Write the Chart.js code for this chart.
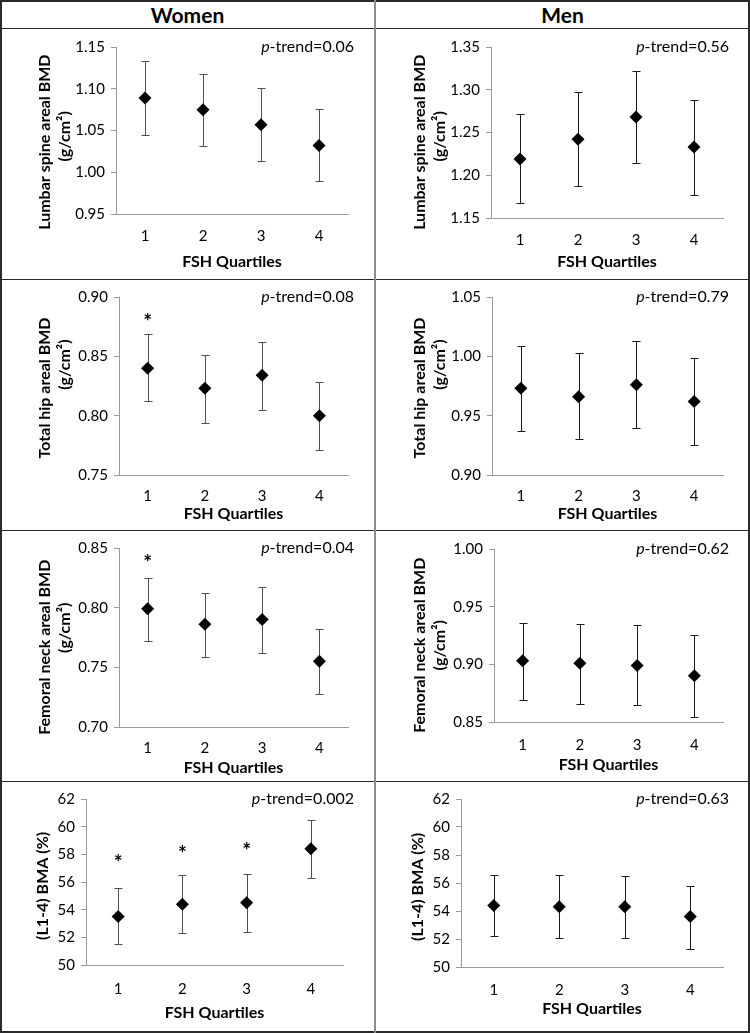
<!DOCTYPE html>
<html><head><meta charset="utf-8">
<script src="https://cdn.jsdelivr.net/npm/chart.js@4.4.0/dist/chart.umd.min.js"></script>
<style>
html,body{margin:0;padding:0;background:#fff;}
#wrap{position:relative;width:750px;height:1033px;overflow:hidden;font-family:Lato,sans-serif;background:#fff;}
canvas{position:absolute;}
.hdr{position:absolute;top:0;height:28px;line-height:29px;text-align:center;font-weight:bold;font-size:21px;color:#000;}
.ln{position:absolute;background:#2a2a2a;}
</style></head><body>
<div id="wrap">
  <div class="hdr" style="left:0;width:375px">Women</div>
  <div class="hdr" style="left:375px;width:375px">Men</div>
</div>
<script>
// ---------- data ----------
const categories = ['1', '2', '3', '4'];

const womenSpineMean = [1.089, 1.075, 1.057, 1.032];
const womenSpineLow  = [1.045, 1.031, 1.013, 0.989];
const womenSpineHigh = [1.133, 1.118, 1.101, 1.076];

const menSpineMean = [1.219, 1.242, 1.268, 1.233];
const menSpineLow  = [1.167, 1.188, 1.214, 1.177];
const menSpineHigh = [1.272, 1.297, 1.322, 1.288];

const womenHipMean = [0.840, 0.823, 0.834, 0.800];
const womenHipLow  = [0.812, 0.794, 0.805, 0.771];
const womenHipHigh = [0.869, 0.851, 0.862, 0.828];

const menHipMean = [0.973, 0.966, 0.976, 0.962];
const menHipLow  = [0.937, 0.930, 0.940, 0.925];
const menHipHigh = [1.009, 1.003, 1.013, 0.999];

const womenNeckMean = [0.799, 0.786, 0.790, 0.755];
const womenNeckLow  = [0.772, 0.759, 0.762, 0.728];
const womenNeckHigh = [0.825, 0.812, 0.817, 0.782];

const menNeckMean = [0.903, 0.901, 0.899, 0.890];
const menNeckLow  = [0.869, 0.866, 0.865, 0.854];
const menNeckHigh = [0.936, 0.935, 0.934, 0.925];

const womenBmaMean = [53.5, 54.4, 54.5, 58.4];
const womenBmaLow  = [51.5, 52.3, 52.4, 56.3];
const womenBmaHigh = [55.6, 56.5, 56.6, 60.5];

const menBmaMean = [54.4, 54.3, 54.3, 53.6];
const menBmaLow  = [52.2, 52.1, 52.1, 51.3];
const menBmaHigh = [56.6, 56.6, 56.5, 55.8];

// significance markers (value position of the asterisk, null = none)
const womenHipStar  = [0.883, null, null, null];
const womenNeckStar = [0.842, null, null, null];
const womenBmaStar  = [57.7, 58.4, 58.6, null];

const pTrendValues = ['0.06', '0.56', '0.08', '0.79', '0.04', '0.62', '0.002', '0.63'];

const spineWomenTicks = [0.95, 1.00, 1.05, 1.10, 1.15];
const spineMenTicks   = [1.15, 1.20, 1.25, 1.30, 1.35];
const hipWomenTicks   = [0.75, 0.80, 0.85, 0.90];
const hipMenTicks     = [0.90, 0.95, 1.00, 1.05];
const neckWomenTicks  = [0.70, 0.75, 0.80, 0.85];
const neckMenTicks    = [0.85, 0.90, 0.95, 1.00];
const bmaTicks        = [50, 52, 54, 56, 58, 60, 62];

const xTitle = 'FSH Quartiles';
const spineTitle = ['Lumbar spine areal BMD', '(g/cm\u00B2)'];
const hipTitle = ['Total hip areal BMD', '(g/cm\u00B2)'];
const neckTitle = ['Femoral neck areal BMD', '(g/cm\u00B2)'];
const bmaTitle = ['(L1-4) BMA (%)'];

// ---------- layout (per panel, relative to the cell) ----------
const FONT = 'Lato';
const CELL_W = 375, CELL_H = 251, HEADER_H = 28;

// yShift: vertical offset of each y-title line from the plot centre (px, + = down)
const panels = [
  {col:0,row:0,mean:womenSpineMean,low:womenSpineLow,high:womenSpineHigh,star:null,ticks:spineWomenTicks,dec:2,title:spineTitle,p:pTrendValues[0],bar:'#505050',
   g:{left:116,right:348,top:19,bottom:186,xLabelY:208,xTitleY:234,yTitleX:45,yShift:[12,5]}},
  {col:1,row:0,mean:menSpineMean,low:menSpineLow,high:menSpineHigh,star:null,ticks:spineMenTicks,dec:2,title:spineTitle,p:pTrendValues[1],bar:'#1a1a1a',
   g:{left:116,right:348,top:19,bottom:190,xLabelY:212,xTitleY:234,yTitleX:45,yShift:[10,4]}},
  {col:0,row:1,mean:womenHipMean,low:womenHipLow,high:womenHipHigh,star:womenHipStar,ticks:hipWomenTicks,dec:2,title:hipTitle,p:pTrendValues[2],bar:'#505050',
   g:{left:119,right:348,top:18,bottom:196,xLabelY:217,xTitleY:235,yTitleX:45,yShift:[1,-22]}},
  {col:1,row:1,mean:menHipMean,low:menHipLow,high:menHipHigh,star:null,ticks:hipMenTicks,dec:2,title:hipTitle,p:pTrendValues[3],bar:'#1a1a1a',
   g:{left:117,right:348,top:18,bottom:196,xLabelY:217,xTitleY:235,yTitleX:45,yShift:[1,-22]}},
  {col:0,row:2,mean:womenNeckMean,low:womenNeckLow,high:womenNeckHigh,star:womenNeckStar,ticks:neckWomenTicks,dec:2,title:neckTitle,p:pTrendValues[4],bar:'#505050',
   g:{left:119,right:348,top:18,bottom:197,xLabelY:218,xTitleY:238,yTitleX:45,yShift:[9,-10]}},
  {col:1,row:2,mean:menNeckMean,low:menNeckLow,high:menNeckHigh,star:null,ticks:neckMenTicks,dec:2,title:neckTitle,p:pTrendValues[5],bar:'#1a1a1a',
   g:{left:119,right:348,top:19,bottom:192,xLabelY:215,xTitleY:235,yTitleX:45,yShift:[9,10]}},
  {col:0,row:3,mean:womenBmaMean,low:womenBmaLow,high:womenBmaHigh,star:womenBmaStar,ticks:bmaTicks,dec:0,title:bmaTitle,p:pTrendValues[6],bar:'#505050',
   g:{left:86,right:343,top:18,bottom:184,xLabelY:208,xTitleY:232,yTitleX:43,yShift:[4]}},
  {col:1,row:3,mean:menBmaMean,low:menBmaLow,high:menBmaHigh,star:null,ticks:bmaTicks,dec:0,title:bmaTitle,p:pTrendValues[7],bar:'#1a1a1a',
   g:{left:86,right:348,top:18,bottom:186,xLabelY:209,xTitleY:228,yTitleX:43,yShift:[4]}}
];

// pad a rotated title line with spaces so its centre moves by `shift` px
const measureCtx = document.createElement('canvas').getContext('2d');
function shiftLine(text, shift, font) {
  measureCtx.font = font;
  const sp = measureCtx.measureText('\u00A0').width || 4;
  const n = Math.round(Math.abs(shift) * 2 / sp);
  const pad = '\u00A0'.repeat(n);
  return shift >= 0 ? text + pad : pad + text;
}

// ---------- plugins ----------
const errorBarPlugin = {
  id: 'errorBars',
  beforeDatasetsDraw(chart, args, opts) {
    const ctx = chart.ctx, meta = chart.getDatasetMeta(0), ys = chart.scales.y;
    ctx.save();
    ctx.strokeStyle = opts.color;
    ctx.lineWidth = 1;
    meta.data.forEach((pt, i) => {
      const x = Math.round(pt.x) + 0.5;
      const yh = Math.round(ys.getPixelForValue(opts.high[i])) + 0.5;
      const yl = Math.round(ys.getPixelForValue(opts.low[i])) + 0.5;
      ctx.beginPath();
      ctx.moveTo(x, yh); ctx.lineTo(x, yl);
      ctx.moveTo(x - 4, yh); ctx.lineTo(x + 4, yh);
      ctx.moveTo(x - 4, yl); ctx.lineTo(x + 4, yl);
      ctx.stroke();
    });
    ctx.restore();
  }
};

const starPlugin = {
  id: 'stars',
  afterDatasetsDraw(chart, args, opts) {
    if (!opts.values) return;
    const ctx = chart.ctx, meta = chart.getDatasetMeta(0), ys = chart.scales.y;
    ctx.save();
    ctx.fillStyle = '#000';
    ctx.font = 'bold 21px ' + FONT;
    ctx.textAlign = 'center';
    ctx.textBaseline = 'alphabetic';
    meta.data.forEach((pt, i) => {
      const v = opts.values[i];
      if (v === null || v === undefined) return;
      ctx.fillText('*', pt.x, ys.getPixelForValue(v) + 12);
    });
    ctx.restore();
  }
};

const pTrendPlugin = {
  id: 'ptrend',
  afterDraw(chart, args, opts) {
    const ctx = chart.ctx;
    const y = chart.chartArea.top;
    const xr = opts.x;
    ctx.save();
    ctx.fillStyle = '#000';
    ctx.textBaseline = 'middle';
    ctx.textAlign = 'right';
    ctx.font = '16px ' + FONT;
    const rest = '-trend=' + opts.value;
    ctx.fillText(rest, xr, y);
    const w = ctx.measureText(rest).width;
    ctx.font = 'italic 16px ' + FONT;
    ctx.fillText('p', xr - w, y);
    ctx.restore();
  }
};

// ---------- build ----------
const wrap = document.getElementById('wrap');

panels.forEach(p => {
  const cv = document.createElement('canvas');
  cv.width = CELL_W; cv.height = CELL_H;
  cv.style.left = (p.col * CELL_W) + 'px';
  cv.style.top = (HEADER_H + p.row * CELL_H) + 'px';
  cv.style.width = CELL_W + 'px';
  cv.style.height = CELL_H + 'px';
  wrap.appendChild(cv);
  const g = p.g;
  const tickSize = 15, tickLH = 18;
  const titleSize = 16, titleLH = 20;
  const titleFont = 'bold ' + titleSize + 'px ' + FONT;
  const yTitleText = p.title.map((t, i) => shiftLine(t, g.yShift[i] || 0, titleFont));
  new Chart(cv.getContext('2d'), {
    type: 'line',
    data: {
      labels: categories,
      datasets: [{
        data: p.mean,
        showLine: false,
        pointStyle: 'rectRot',
        pointRadius: 6.5,
        pointBackgroundColor: '#000',
        pointBorderColor: '#000',
        pointBorderWidth: 0
      }]
    },
    options: {
      responsive: false,
      animation: false,
      devicePixelRatio: 1,
      events: [],
      layout: { padding: { left: 0, top: g.top, right: CELL_W - g.right, bottom: 0 } },
      plugins: {
        legend: { display: false },
        tooltip: { enabled: false },
        errorBars: { low: p.low, high: p.high, color: p.bar },
        stars: { values: p.star },
        ptrend: { value: p.p, x: 354 }
      },
      scales: {
        x: {
          type: 'category',
          offset: true,
          grid: { display: true, drawOnChartArea: false, drawTicks: false, color: '#9a9a9a' },
          border: { display: true, color: '#9a9a9a', width: 1 },
          ticks: { color: '#000', font: { family: FONT, size: tickSize, lineHeight: tickLH / tickSize },
                   padding: g.xLabelY - g.bottom - tickLH / 2, maxRotation: 0, autoSkip: false },
          title: { display: true, text: xTitle, color: '#000',
                   font: { family: FONT, size: titleSize, weight: 'bold', lineHeight: 1.2 },
                   padding: { top: 0, bottom: CELL_H - g.xTitleY - 9.6 } },
          afterFit(s) { s.height = CELL_H - g.bottom; }
        },
        y: {
          min: p.ticks[0],
          max: p.ticks[p.ticks.length - 1],
          afterBuildTicks(s) { s.ticks = p.ticks.map(v => ({ value: v })); },
          grid: { display: true, drawOnChartArea: false, drawTicks: true, tickLength: 5, color: '#9a9a9a' },
          border: { display: true, color: '#9a9a9a', width: 1 },
          ticks: { color: '#000', font: { family: FONT, size: tickSize }, padding: 6,
                   callback: v => Number(v).toFixed(p.dec) },
          title: { display: true, text: yTitleText, color: '#000',
                   font: { family: FONT, size: titleSize, weight: 'bold', lineHeight: titleLH / titleSize },
                   padding: { top: g.yTitleX - titleLH / 2, bottom: 0 } },
          afterFit(s) { s.width = g.left; }
        }
      }
    },
    plugins: [errorBarPlugin, starPlugin, pTrendPlugin]
  });
});

// ---------- frame lines ----------
function line(x, y, w, h, color) {
  const d = document.createElement('div');
  d.className = 'ln';
  d.style.left = x + 'px'; d.style.top = y + 'px';
  d.style.width = w + 'px'; d.style.height = h + 'px';
  if (color) d.style.background = color;
  wrap.appendChild(d);
}
line(0, 0, 750, 2);
line(0, 28, 750, 1);
line(0, 279, 750, 1);
line(0, 530, 750, 1);
line(0, 781, 750, 1);
line(0, 1031, 750, 2);
line(0, 0, 2, 1033);
line(748, 0, 2, 1033);
line(374, 0, 2, 1033, '#8c8c8c');
</script>
</body></html>
